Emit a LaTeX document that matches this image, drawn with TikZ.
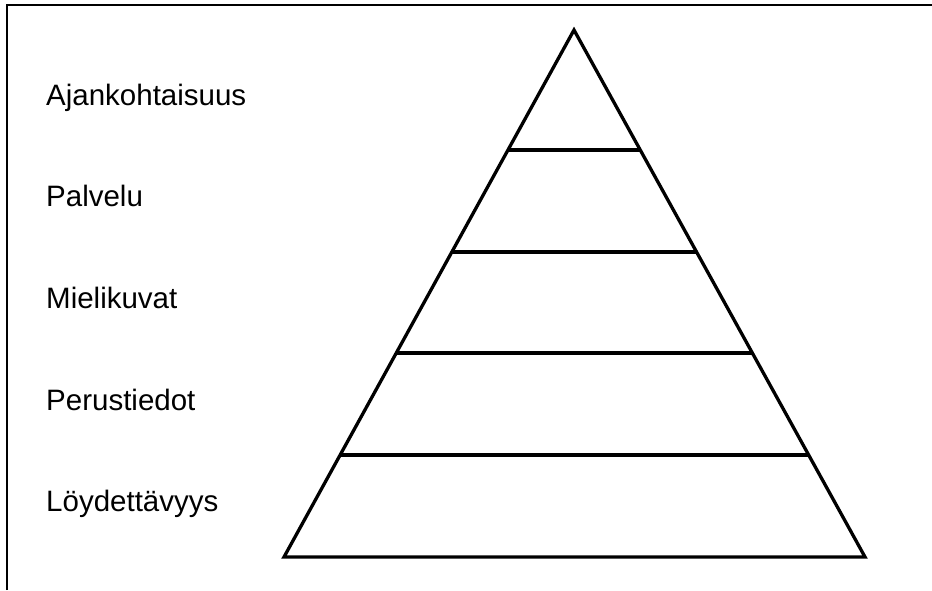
\documentclass[tikz,border=0pt]{standalone}
\usepackage{fontspec}
\setmainfont{Liberation Sans}
\usetikzlibrary{calc}
\begin{document}
\begin{tikzpicture}[x=1pt,y=-1pt,
  frame/.style={line width=2.4pt,black},
  tri/.style={line width=3.3pt,black,line join=miter},
  lvl/.style={line width=3.3pt,black},
  lab/.style={anchor=base west,inner sep=0pt,font=\fontsize{29.5}{36}\selectfont}]
\useasboundingbox (0,0) rectangle (932,590);
\coordinate (tl) at (7,5);
\coordinate (tr) at (932,5);
\coordinate (bl) at (7,590);
\draw[frame] (bl) -- (tl) -- (tr);
\coordinate (apex) at (574,30);
\coordinate (L) at (284,557);
\coordinate (R) at (865,557);
\draw[tri] (apex) -- (L) -- (R) -- cycle;
\foreach \y/\n in {150/a,252/b,353/c,455/d}{
  \coordinate (l\n) at ($(apex)!{(\y-30)/527}!(L)$);
  \coordinate (r\n) at ($(apex)!{(\y-30)/527}!(R)$);
  \draw[lvl] (l\n) -- (r\n);
}
\node[lab] (t1) at (46,105) {Ajankohtaisuus};
\node[lab] (t2) at (46,206) {Palvelu};
\node[lab] (t3) at (46,308) {Mielikuvat};
\node[lab] (t4) at (46,410) {Perustiedot};
\node[lab] (t5) at (46,511) {Löydettävyys};
\end{tikzpicture}
\end{document}
